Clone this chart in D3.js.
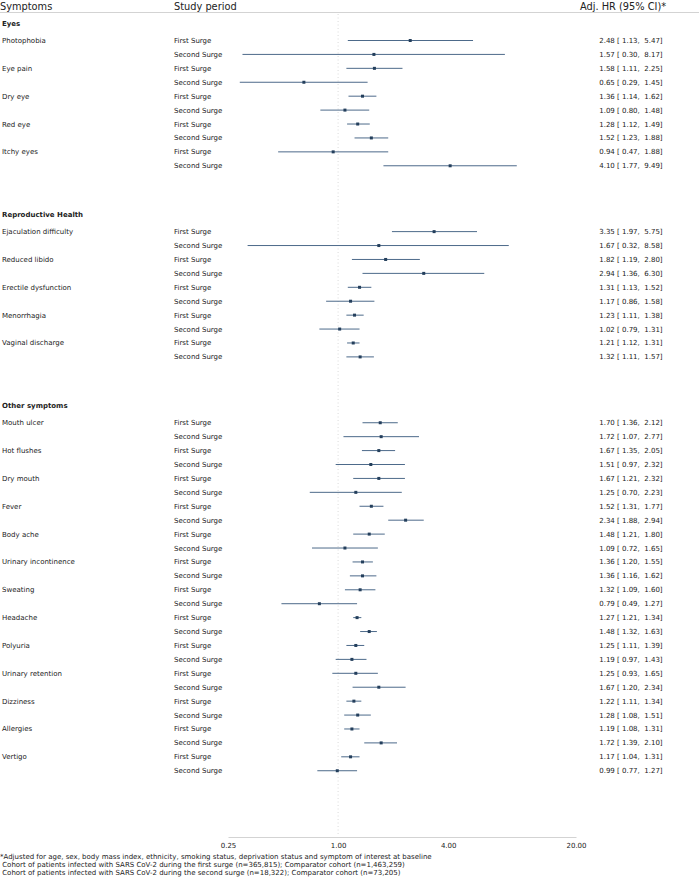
<!DOCTYPE html>
<html lang="en">
  <head>
    <meta charset="UTF-8" />
    <title>Adjusted hazard ratios by symptom and study period</title>
    <script src="https://d3js.org/d3.v7.min.js"></script>
    <style>
      body {
        margin: 0;
        background: #fff;
      }
      svg text {
        font-family: "DejaVu Sans", sans-serif;
        fill: #222;
      }
    </style>
  </head>
  <body>
    <svg id="forest"></svg>
    <script>
      // Data
      const groups = ["Eyes", "Reproductive Health", "Other symptoms"];
      const symptoms = [
        ["Photophobia", "Eye pain", "Dry eye", "Red eye", "Itchy eyes"],
        ["Ejaculation difficulty", "Reduced libido", "Erectile dysfunction", "Menorrhagia", "Vaginal discharge"],
        ["Mouth ulcer", "Hot flushes", "Dry mouth", "Fever", "Body ache", "Urinary incontinence", "Sweating",
         "Headache", "Polyuria", "Urinary retention", "Dizziness", "Allergies", "Vertigo"],
      ];
      const periods = ["First Surge", "Second Surge"];

      // [first surge, second surge] per symptom, same order as above
      const hr = [
        2.48, 1.57, 1.58, 0.65, 1.36, 1.09, 1.28, 1.52, 0.94, 4.10,
        3.35, 1.67, 1.82, 2.94, 1.31, 1.17, 1.23, 1.02, 1.21, 1.32,
        1.70, 1.72, 1.67, 1.51, 1.67, 1.25, 1.52, 2.34, 1.48, 1.09, 1.36, 1.36, 1.32, 0.79,
        1.27, 1.48, 1.25, 1.19, 1.25, 1.67, 1.22, 1.28, 1.19, 1.72, 1.17, 0.99,
      ];
      const lower = [
        1.13, 0.30, 1.11, 0.29, 1.14, 0.80, 1.12, 1.23, 0.47, 1.77,
        1.97, 0.32, 1.19, 1.36, 1.13, 0.86, 1.11, 0.79, 1.12, 1.11,
        1.36, 1.07, 1.35, 0.97, 1.21, 0.70, 1.31, 1.88, 1.21, 0.72, 1.20, 1.16, 1.09, 0.49,
        1.21, 1.32, 1.11, 0.97, 0.93, 1.20, 1.11, 1.08, 1.08, 1.39, 1.04, 0.77,
      ];
      const upper = [
        5.47, 8.17, 2.25, 1.45, 1.62, 1.48, 1.49, 1.88, 1.88, 9.49,
        5.75, 8.58, 2.80, 6.30, 1.52, 1.58, 1.38, 1.31, 1.31, 1.57,
        2.12, 2.77, 2.05, 2.32, 2.32, 2.23, 1.77, 2.94, 1.80, 1.65, 1.55, 1.62, 1.60, 1.27,
        1.34, 1.63, 1.39, 1.43, 1.65, 2.34, 1.34, 1.51, 1.31, 2.10, 1.31, 1.27,
      ];
      const xTicks = [0.25, 1, 4, 20];
      const footnotes = [
        "*Adjusted for age, sex, body mass index, ethnicity, smoking status, deprivation status and symptom of interest at baseline",
        "\u00a0Cohort of patients infected with SARS CoV-2 during the first surge (n=365,815); Comparator cohort (n=1,463,259)",
        "\u00a0Cohort of patients infected with SARS CoV-2 during the second surge (n=18,322); Comparator cohort (n=73,205)",
      ];

      const WIDTH = 699;
      const HEIGHT = 877;
      const ROW = 13.92;
      const GROUP_GAP = 4.73; // rows between last item of a group and first of next
      const HEADER_OFFSET = 17.5;
      const LINE_COLOR = "#4d6a8a";
      const MARK_COLOR = "#243f5c";

      const svg = d3.select("#forest").attr("width", WIDTH).attr("height", HEIGHT);

      const x = d3.scaleLog().domain([0.25, 20]).range([228, 576]);
      const y = d3.scaleLinear().domain([0, 1]).range([40.5, 40.5 + ROW]);

      // build rows
      const rows = [];
      const headers = [];
      let r = 0;
      let k = 0;
      groups.forEach((g, gi) => {
        headers.push({ name: g, y: y(r) - HEADER_OFFSET });
        symptoms[gi].forEach((s) => {
          periods.forEach((p, pi) => {
            rows.push({
              symptom: pi === 0 ? s : "",
              period: p,
              hr: hr[k],
              lo: lower[k],
              hi: upper[k],
              y: y(r),
            });
            k++;
            r++;
          });
        });
        r += GROUP_GAP - 1;
      });

      // column headers
      const head = svg.append("g").style("font-size", "9.8px");
      head.append("text").attr("x", 0).attr("y", 9.5).text("Symptoms");
      head.append("text").attr("x", 174).attr("y", 9.5).text("Study period");
      head.append("text").attr("x", 580).attr("y", 9.5).text("Adj. HR (95% CI)*");
      svg.append("line")
        .attr("x1", 0).attr("x2", WIDTH)
        .attr("y1", 12.5).attr("y2", 12.5)
        .attr("stroke", "#c8c8c8").attr("stroke-width", 0.8);

      // reference line at HR = 1
      svg.append("line")
        .attr("x1", x(1)).attr("x2", x(1))
        .attr("y1", 14).attr("y2", 836)
        .attr("stroke", "#d0d0d0")
        .attr("stroke-width", 0.8)
        .attr("stroke-dasharray", "1,2.5");

      // group headers
      svg.append("g")
        .selectAll("text")
        .data(headers)
        .join("text")
        .attr("x", 2)
        .attr("y", (d) => d.y + 2.5)
        .style("font-size", "7px")
        .style("font-weight", "bold")
        .text((d) => d.name);

      const row = svg.append("g")
        .selectAll("g")
        .data(rows)
        .join("g")
        .attr("transform", (d) => `translate(0,${d.y})`);

      row.append("text")
        .attr("x", 2)
        .attr("y", 2.5)
        .style("font-size", "7px")
        .text((d) => d.symptom);

      row.append("text")
        .attr("x", 174)
        .attr("y", 2.5)
        .style("font-size", "7px")
        .text((d) => d.period);

      row.append("line")
        .attr("x1", (d) => x(d.lo))
        .attr("x2", (d) => x(d.hi))
        .attr("stroke", LINE_COLOR)
        .attr("stroke-width", 1);

      row.append("rect")
        .attr("x", (d) => x(d.hr) - 1.5)
        .attr("y", -1.5)
        .attr("width", 3)
        .attr("height", 3)
        .attr("fill", MARK_COLOR);

      const fmt = d3.format("5.2f");
      row.append("text")
        .attr("x", 597)
        .attr("y", 2.5)
        .style("font-size", "7px")
        .style("white-space", "pre")
        .text((d) => `${fmt(d.hr)} [${fmt(d.lo).padStart(5, " ")}, ${fmt(d.hi).padStart(5, " ")}]`);

      // x axis
      const axis = svg.append("g").attr("transform", "translate(0,837)");
      axis.call(d3.axisBottom(x).tickValues(xTicks).tickSize(0).tickPadding(6).tickFormat(d3.format(".2f")));
      axis.select(".domain").attr("stroke", "#c8c8c8").attr("stroke-width", 0.8);
      axis.selectAll("text")
        .style("font-family", "DejaVu Sans, sans-serif")
        .style("font-size", "7px")
        .attr("fill", "#222");

      // footnotes
      svg.append("g")
        .selectAll("text")
        .data(footnotes)
        .join("text")
        .attr("x", 0)
        .attr("y", (d, i) => 858.5 + i * 8.4)
        .style("font-size", "7px")
        .text((d) => d);
    </script>
  </body>
</html>
